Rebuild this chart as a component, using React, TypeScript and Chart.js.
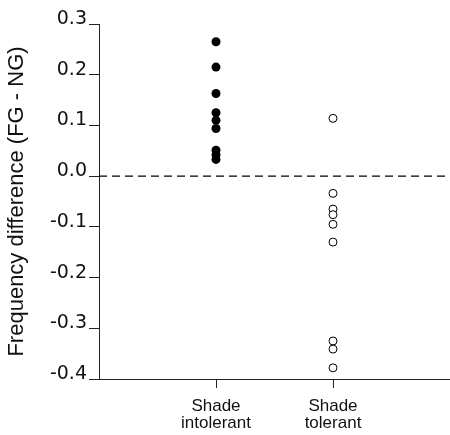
import React, { useEffect, useRef } from "react";
import { Chart, registerables } from "chart.js";

Chart.register(...registerables);

const categories: string[][] = [["Shade", "intolerant"], ["Shade", "tolerant"]];
const intolerantValues = [0.265, 0.215, 0.163, 0.125, 0.11, 0.094, 0.051, 0.042, 0.033];
const tolerantValues = [0.114, -0.034, -0.065, -0.076, -0.095, -0.13, -0.325, -0.341, -0.378];
const yTickValues = [-0.4, -0.3, -0.2, -0.1, 0.0, 0.1, 0.2, 0.3];
const yTitle = "Frequency difference (FG - NG)";
const referenceLine = [0, 0];

export default function App() {
  const ref = useRef<HTMLCanvasElement | null>(null);
  useEffect(() => {
    if (!ref.current) return;
    const chart = new Chart(ref.current, {
      type: "scatter",
      data: {
        datasets: [
          {
            type: "line",
            data: [
              { x: 0, y: referenceLine[0] },
              { x: 3, y: referenceLine[1] },
            ],
            borderColor: "#000",
            borderWidth: 1.2,
            borderDash: [8, 5],
            pointRadius: 0,
            pointHoverRadius: 0,
            fill: false,
          } as any,
          {
            data: intolerantValues.map((v) => ({ x: 1, y: v })),
            backgroundColor: "#000",
            borderColor: "#000",
            borderWidth: 0,
            pointRadius: 4.5,
          },
          {
            data: tolerantValues.map((v) => ({ x: 2, y: v })),
            backgroundColor: "#fff",
            borderColor: "#000",
            borderWidth: 1,
            pointRadius: 4,
          },
        ],
      },
      options: {
        responsive: false,
        animation: false,
        layout: { autoPadding: false, padding: { top: 24, right: 0, left: 0, bottom: 0 } },
        plugins: { legend: { display: false }, tooltip: { enabled: false } },
        scales: {
          x: {
            type: "linear",
            min: 0,
            max: 3,
            afterBuildTicks: (s: any) => {
              s.ticks = [{ value: 1 }, { value: 2 }];
            },
            afterFit: (s: any) => {
              s.height = 56;
            },
            grid: { drawOnChartArea: false, drawTicks: true, tickLength: 9, color: "#222" },
            border: { display: true, color: "#222", width: 1 },
            ticks: {
              color: "#111",
              padding: 10,
              maxRotation: 0,
              autoSkip: false,
              font: { family: "Liberation Sans, Arial, sans-serif", size: 17, lineHeight: 1.0 },
              callback: (v: any) => categories[Math.round(v) - 1] ?? "",
            },
          },
          y: {
            type: "linear",
            min: -0.4,
            max: 0.3,
            afterBuildTicks: (s: any) => {
              s.ticks = yTickValues.map((v) => ({ value: v }));
            },
            afterFit: (s: any) => {
              s.width = 99;
            },
            grid: { drawOnChartArea: false, drawTicks: true, tickLength: 10, color: "#222" },
            border: { display: true, color: "#222", width: 1 },
            title: {
              display: true,
              text: yTitle,
              color: "#111",
              font: { family: "Liberation Sans, Arial, sans-serif", size: 22 },
            },
            ticks: {
              color: "#111",
              padding: 2,
              labelOffset: -5,
              font: { family: "DejaVu Sans, sans-serif", size: 19 },
              callback: (v: any) => Number(v).toFixed(1),
            },
          },
        },
      },
    });
    return () => chart.destroy();
  }, []);
  return (
    <div style={{ position: "fixed", left: 0, top: 0, width: 450, height: 435, background: "#fff" }}>
      <canvas ref={ref} width={450} height={435} />
    </div>
  );
}
